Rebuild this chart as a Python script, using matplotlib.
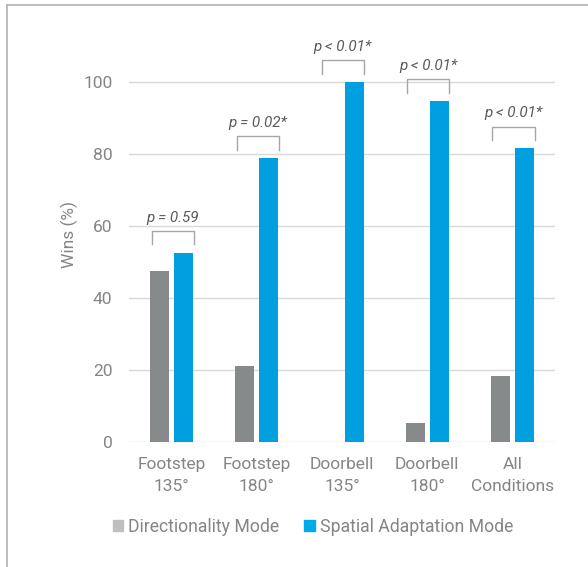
import numpy as np
import matplotlib
matplotlib.use('agg')
import matplotlib.pyplot as plt
from matplotlib.lines import Line2D
from matplotlib.patches import Patch

categories = ['Footstep\n135°', 'Footstep\n180°', 'Doorbell\n135°', 'Doorbell\n180°', 'All\nConditions']
directionality = [47.4, 21.1, 0.0, 5.3, 18.4]
spatial = [52.6, 78.9, 100.0, 94.7, 81.6]
p_labels = ['p = 0.59', 'p = 0.02*', 'p < 0.01*', 'p < 0.01*', 'p < 0.01*']

plt.rcParams['font.family'] = ['Roboto', 'DejaVu Sans']

gray_bar = '#878a8b'
blue_bar = '#009fdf'
text_gray = '#858585'

fig = plt.figure(figsize=(5.88, 5.67), dpi=100)
ax = fig.add_axes([129 / 588, 125 / 567, 426 / 588, 414 / 567])

x = np.arange(len(categories))
bar_width = 0.223
offset = 0.141
ax.bar(x - offset, directionality, bar_width, color=gray_bar, zorder=3)
ax.bar(x + offset, spatial, bar_width, color=blue_bar, zorder=3)

# significance brackets
for i, (d, s, lab) in enumerate(zip(directionality, spatial, p_labels)):
    top = max(d, s) + 6.0
    ax.plot([i - 0.235, i - 0.235, i + 0.26, i + 0.26],
            [top - 3.7, top, top, top - 3.7],
            color='#a6a6a6', lw=1.0, zorder=4)
    ax.text(i + 0.01, top + 1.8, lab, ha='center', va='bottom',
            fontsize=11, style='italic', color='#5a5a5a')

ax.set_xlim(-0.5, 4.5)
ax.set_ylim(0, 115)
ax.set_yticks(np.arange(0, 101, 20))
ax.grid(axis='y', color='#d9d9d9', lw=1.0, zorder=0)
ax.set_xticks(x)
ax.set_xticklabels(categories, fontsize=12.5, color=text_gray, linespacing=1.6)
ax.tick_params(axis='y', labelsize=12.5, labelcolor=text_gray, length=0, pad=12)
ax.tick_params(axis='x', length=0, pad=11)
for sp in ax.spines.values():
    sp.set_visible(False)
ax.set_ylabel('Wins (%)', fontsize=12.5, color=text_gray, labelpad=4)

handles = [Patch(color='#bfbfbf', label='Directionality Mode'),
           Patch(color='#00a9e8', label='Spatial Adaptation Mode')]
fig.legend(handles=handles, loc='center', bbox_to_anchor=(313 / 588, 1 - 527 / 567),
           ncol=2, frameon=False, fontsize=12.7, labelcolor=text_gray,
           handlelength=0.6, handleheight=0.6, handletextpad=0.3, columnspacing=1.4)

# outer frame (left and top edges)
fig.add_artist(Line2D([7 / 588, 7 / 588], [0, 1 - 5 / 567], color='#b0b0b0', lw=1.2))
fig.add_artist(Line2D([7 / 588, 1], [1 - 5 / 567, 1 - 5 / 567], color='#b0b0b0', lw=1.2))

fig.savefig('out.png', dpi=100)
